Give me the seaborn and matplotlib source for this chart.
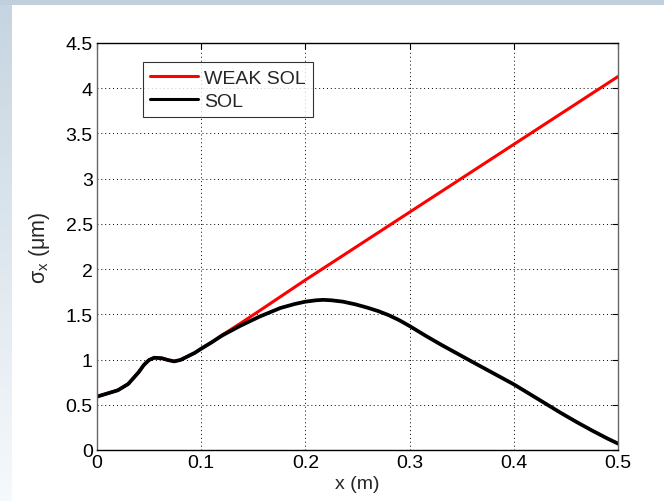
import matplotlib
matplotlib.use('Agg')
import matplotlib.pyplot as plt
import seaborn as sns
import numpy as np
import pandas as pd
from matplotlib.patches import Rectangle

# valores
sol_x = [0.0, 0.01, 0.02, 0.03, 0.04, 0.045, 0.05, 0.055, 0.062, 0.068, 0.074, 0.08,
         0.087, 0.094, 0.10, 0.11, 0.12, 0.137, 0.156, 0.176, 0.19, 0.20, 0.21,
         0.217, 0.225, 0.236, 0.248, 0.259, 0.27, 0.28, 0.29, 0.30, 0.315, 0.33,
         0.345, 0.36, 0.38, 0.40, 0.415, 0.43, 0.445, 0.46, 0.475, 0.49, 0.50]
sol = [0.59, 0.625, 0.66, 0.73, 0.86, 0.94, 0.995, 1.02, 1.015, 0.995, 0.98, 0.995,
       1.035, 1.075, 1.12, 1.19, 1.265, 1.37, 1.475, 1.57, 1.615, 1.64, 1.655,
       1.66, 1.655, 1.64, 1.61, 1.575, 1.535, 1.49, 1.435, 1.37, 1.265, 1.165,
       1.07, 0.975, 0.85, 0.725, 0.62, 0.515, 0.41, 0.31, 0.215, 0.125, 0.07]

weak_x = [0.0, 0.01, 0.02, 0.03, 0.04, 0.045, 0.05, 0.055, 0.062, 0.068, 0.074, 0.08,
          0.087, 0.094, 0.10, 0.11, 0.12, 0.137, 0.156, 0.20, 0.30, 0.40, 0.50]
weak_sol = [0.59, 0.625, 0.66, 0.73, 0.86, 0.94, 0.995, 1.02, 1.015, 0.995, 0.98, 0.995,
            1.035, 1.075, 1.12, 1.19, 1.27, 1.395, 1.54, 1.88, 2.63, 3.38, 4.13]

x_ticks = [0, 0.1, 0.2, 0.3, 0.4, 0.5]
x_labels = ['0', '0.1', '0.2', '0.3', '0.4', '0.5']
y_ticks = [0, 0.5, 1, 1.5, 2, 2.5, 3, 3.5, 4, 4.5]
y_labels = ['0', '0.5', '1', '1.5', '2', '2.5', '3', '3.5', '4', '4.5']

df = pd.DataFrame({'x': weak_x + sol_x,
                   'y': weak_sol + sol,
                   'serie': ['WEAK SOL'] * len(weak_x) + ['SOL'] * len(sol_x)})

sns.set_style('white')
plt.rcParams['font.family'] = ['Liberation Sans', 'DejaVu Sans']
plt.rcParams['mathtext.fontset'] = 'custom'
plt.rcParams['mathtext.rm'] = 'Liberation Sans'
plt.rcParams['mathtext.it'] = 'Liberation Sans'

fig = plt.figure(figsize=(6.64, 5.02), dpi=100)
fig.patch.set_facecolor('white')

# fundo do slide (faixa de cima e gradiente a esquerda)
fig.patches.append(Rectangle((0, 0.989), 1, 0.011, transform=fig.transFigure,
                             facecolor='#bfcfdc', edgecolor='none', zorder=0))
bg = fig.add_axes([0, 0, 0.017, 0.989])
grad = np.linspace(0, 1, 100).reshape(-1, 1)
bg.imshow(grad, aspect='auto', cmap=matplotlib.colors.LinearSegmentedColormap.from_list(
    'bg', ['#f6f9fb', '#c6d5e1']), origin='lower')
bg.axis('off')

ax = fig.add_axes([0.146, 0.1016, 0.785, 0.8108])
sns.lineplot(data=df, x='x', y='y', hue='serie', hue_order=['WEAK SOL', 'SOL'],
             palette={'WEAK SOL': '#ff0000', 'SOL': '#000000'}, ax=ax, sort=False,
             estimator=None)
for line, lw in zip(ax.lines, [2.2, 2.7]):
    line.set_linewidth(lw)
    line.set_solid_joinstyle('round')

ax.set_xlim(0, 0.5)
ax.set_ylim(0, 4.5)
ax.set_xticks(x_ticks)
ax.set_xticklabels(x_labels)
ax.set_yticks(y_ticks)
ax.set_yticklabels(y_labels)
ax.tick_params(direction='in', length=4, width=0.8, top=True, right=True,
               labelsize=14, colors='black', pad=3)
ax.grid(True, linestyle=(0, (1, 3)), color='black', linewidth=0.7)
for s in ax.spines.values():
    s.set_visible(True)
    s.set_color('#666666')
    s.set_linewidth(1.0)
ax.spines['top'].set_color('black')
ax.spines['bottom'].set_color('black')

ax.set_xlabel('x (m)', fontsize=14, labelpad=3)
ax.set_ylabel(r'$\sigma_x$ ($\mu$m)', fontsize=15.5, labelpad=10)

leg = ax.legend(loc='upper left', bbox_to_anchor=(0.088, 0.953), fontsize=14,
                frameon=True, fancybox=False, borderpad=0.35, handlelength=2.5,
                handletextpad=0.3, labelspacing=0.3, borderaxespad=0)
leg.get_frame().set_edgecolor('black')
leg.get_frame().set_linewidth(0.8)
for h in leg.get_lines():
    h.set_linewidth(2.2)

plt.savefig('out.png', dpi=100)
